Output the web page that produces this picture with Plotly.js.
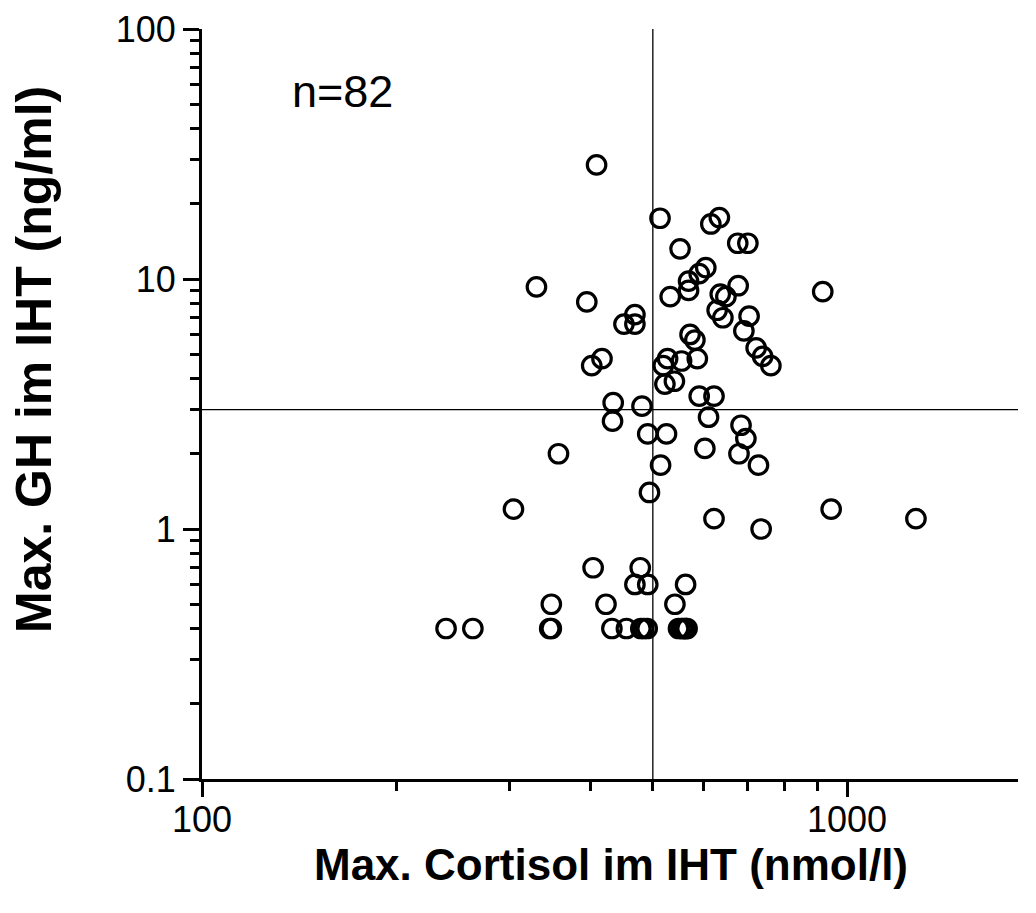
<!DOCTYPE html>
<html>
<head>
<meta charset="utf-8">
<script src="https://cdn.plot.ly/plotly-3.0.1.min.js"></script>
<style>html,body{margin:0;padding:0;background:#fff;}#chart{width:1036px;height:913px;}</style>
</head>
<body>
<div id="chart"></div>
<script>
// Max. Cortisol im IHT (nmol/l)
const cortisol = [
  409, 513, 615, 634, 551, 677, 702, 604,
  330, 395, 590, 568, 568, 532, 678, 636, 649, 917, 629, 642, 705, 692,
  451, 469, 469, 571, 581, 417, 402, 527, 519, 554, 586, 723, 740, 762,
  522, 540, 434, 481, 590, 622,
  610, 433, 685, 491, 525, 697, 602, 680, 357, 514, 729, 494, 304, 622,
  945, 1279, 736,
  404, 478, 469, 491, 562, 348, 423, 541,
  239, 263, 348, 346, 432, 455, 479, 490, 548, 554, 561, 565, 484, 557, 563
];
// Max. GH im IHT (ng/ml)
const gh = [
  28.6, 17.5, 16.6, 17.6, 13.2, 13.9, 13.9, 11.1,
  9.3, 8.1, 10.5, 9.8, 9.0, 8.5, 9.4, 8.7, 8.5, 8.9, 7.5, 7.0, 7.1, 6.2,
  6.6, 7.2, 6.6, 6.0, 5.7, 4.8, 4.5, 4.8, 4.5, 4.7, 4.8, 5.3, 4.9, 4.5,
  3.8, 3.9, 3.2, 3.1, 3.4, 3.4,
  2.8, 2.7, 2.6, 2.4, 2.4, 2.3, 2.1, 2.0, 2.0, 1.8, 1.8, 1.4, 1.2, 1.1,
  1.2, 1.1, 1.0,
  0.7, 0.7, 0.6, 0.6, 0.6, 0.5, 0.5, 0.5,
  0.4, 0.4, 0.4, 0.4, 0.4, 0.4, 0.4, 0.4, 0.4, 0.4, 0.4, 0.4, 0.4, 0.4, 0.4
];
// cut-off lines
const cutoffCortisol = 500;
const cutoffGH = 3;

const xTickVals = [100, 1000];
const xTickText = ['100', '1000'];
const yTickVals = [0.1, 1, 10, 100];
const yTickText = ['0.1', '1', '10', '100'];
const nLabel = 'n=82';
const xTitle = 'Max. Cortisol im IHT (nmol/l)';
const yTitle = 'Max. GH im IHT (ng/ml)';

function minorLogTicks(lo, hi) {
  const out = [];
  for (let d = lo; d < hi * 0.999; d *= 10) {
    for (let k = 2; k <= 9; k++) out.push(d * k);
  }
  return out;
}

const FONT = 'Liberation Sans, Arial, Helvetica, sans-serif';
const W = 1036, H = 913;
const L = 202, R = 18, T = 29, B = 134;
const pw = W - L - R, ph = H - T - B;
const px = v => (v - L) / pw;
const py = v => (H - B - v) / ph;

const trace = {
  x: cortisol,
  y: gh,
  type: 'scatter',
  mode: 'markers',
  marker: {symbol: 'circle', size: 18.5, color: 'rgba(0,0,0,0)', line: {width: 3.2, color: '#000'}},
  hoverinfo: 'x+y'
};

const layout = {
  width: W, height: H,
  margin: {l: L, r: R, t: T, b: B, pad: 0},
  paper_bgcolor: '#fff', plot_bgcolor: '#fff',
  showlegend: false,
  font: {family: FONT, color: '#000'},
  xaxis: {
    type: 'log', range: [2, 3.2651],
    showline: true, linewidth: 3, linecolor: '#000',
    showgrid: false, zeroline: false,
    ticks: 'outside', ticklen: 15, tickwidth: 3, tickcolor: '#000',
    ticklabelstandoff: -8,
    tickmode: 'array', tickvals: xTickVals, ticktext: xTickText,
    tickfont: {family: FONT, size: 36, color: '#000'},
    minor: {tickmode: 'array', tickvals: minorLogTicks(100, 1000), ticks: 'outside', ticklen: 9, tickwidth: 3, tickcolor: '#000', showgrid: false}
  },
  yaxis: {
    type: 'log', range: [-1, 2],
    showline: true, linewidth: 3, linecolor: '#000',
    showgrid: false, zeroline: false,
    ticks: 'outside', ticklen: 16, tickwidth: 3, tickcolor: '#000',
    tickmode: 'array', tickvals: yTickVals, ticktext: yTickText,
    tickfont: {family: FONT, size: 36, color: '#000'},
    minor: {tickmode: 'array', tickvals: minorLogTicks(0.1, 100), ticks: 'outside', ticklen: 9, tickwidth: 3, tickcolor: '#000', showgrid: false}
  },
  shapes: [
    {type: 'line', xref: 'x', yref: 'paper', x0: cutoffCortisol, x1: cutoffCortisol, y0: 0, y1: 1, line: {color: '#000', width: 1.3}},
    {type: 'line', xref: 'paper', yref: 'y', x0: 0, x1: 1, y0: cutoffGH, y1: cutoffGH, line: {color: '#000', width: 1.3}}
  ],
  annotations: [
    {text: nLabel, xref: 'paper', yref: 'paper', x: px(290), y: py(91), xanchor: 'left', yanchor: 'middle', showarrow: false, font: {family: FONT, size: 45, color: '#000'}},
    {text: '<b>' + xTitle + '</b>', xref: 'paper', yref: 'paper', x: px(611), y: py(864), xanchor: 'center', yanchor: 'middle', showarrow: false, font: {family: FONT, size: 44, color: '#000'}},
    {text: '<b>' + yTitle + '</b>', xref: 'paper', yref: 'paper', x: px(34), y: py(360), xanchor: 'center', yanchor: 'middle', textangle: -90, showarrow: false, font: {family: FONT, size: 50, color: '#000'}}
  ]
};

Plotly.newPlot('chart', [trace], layout, {displayModeBar: false, staticPlot: true});
</script>
</body>
</html>
